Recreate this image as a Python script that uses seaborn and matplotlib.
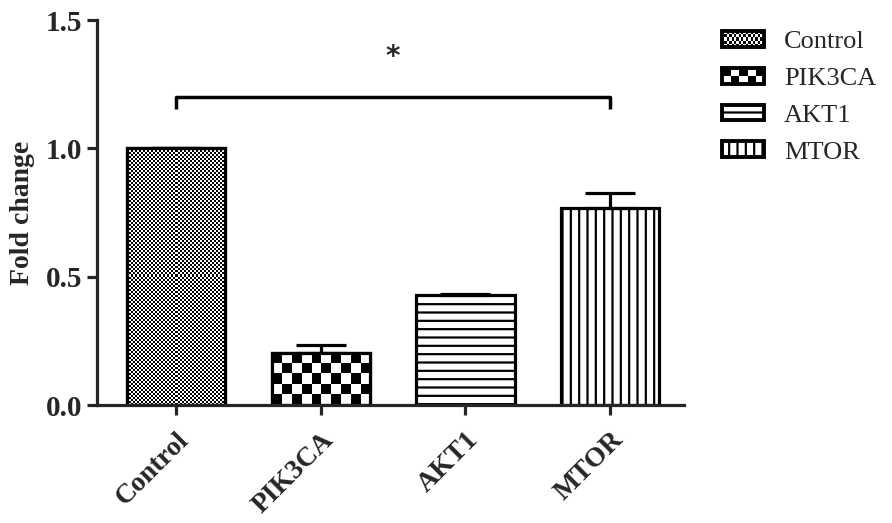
import numpy as np
import pandas as pd
import matplotlib
matplotlib.use("Agg")
import matplotlib.pyplot as plt
import seaborn as sns
from matplotlib.patches import Rectangle
from matplotlib.legend_handler import HandlerBase
from matplotlib.image import BboxImage
from matplotlib.transforms import Bbox, TransformedBbox
from matplotlib.colors import Normalize

# ---- data ----
categories = ["Control", "PIK3CA", "AKT1", "MTOR"]
fold_change = [1.0, 0.203, 0.428, 0.767]
sem_upper = [0.0, 0.030, 0.006, 0.058]
y_ticks = [0.0, 0.5, 1.0, 1.5]
y_label = "Fold change"
sig_label = "*"

sns.set_style("ticks")
plt.rcParams["font.family"] = ["Liberation Serif", "DejaVu Serif"]
plt.rcParams["hatch.linewidth"] = 1.6

fig = plt.figure(figsize=(8.92, 5.23), dpi=100)
ax = fig.add_axes([97 / 892, 1 - 405 / 523, (684 - 97) / 892, (405 - 20) / 523])

df = pd.DataFrame({"group": categories, "value": fold_change})
sns.barplot(data=df, x="group", y="value", order=categories, color="white",
            edgecolor="black", linewidth=2.3, width=0.68, errorbar=None,
            saturation=1, ax=ax)

ax.set_xlim(-0.546, 3.51)
ax.set_ylim(0, 1.5)

bars = list(ax.patches)
hatches = [None, None, "--", "||"]
checker_cell_px = [2.0, 10.0, None, None]


def checker(nr, nc):
    return (np.indices((nr, nc)).sum(axis=0) % 2).astype(float)


for bar, h, cell in zip(bars, hatches, checker_cell_px):
    bar.set_facecolor("white")
    if h:
        bar.set_hatch(h)
    if cell:
        ext = bar.get_window_extent(renderer=fig.canvas.get_renderer())
        nc = max(1, int(round(ext.width / cell)))
        nr = max(1, int(round(ext.height / cell)))
        x0 = bar.get_x()
        x1 = x0 + bar.get_width()
        y1 = bar.get_height()
        im = ax.imshow(checker(nr, nc), cmap="gray", norm=Normalize(0, 1),
                       interpolation="nearest", aspect="auto",
                       extent=(x0, x1, 0, y1), origin="lower",
                       zorder=bar.get_zorder() + 0.1)
        im.set_clip_path(bar)
        ax.add_patch(Rectangle(bar.get_xy(), bar.get_width(), bar.get_height(),
                               fc="none", ec="black", lw=2.3,
                               zorder=bar.get_zorder() + 0.2))

ax.set_xlim(-0.546, 3.51)
ax.set_ylim(0, 1.5)

centers = [b.get_x() + b.get_width() / 2 for b in bars]
ax.errorbar(centers, fold_change, yerr=[np.zeros(len(sem_upper)), sem_upper],
            fmt="none", ecolor="black", elinewidth=2.3, capsize=18,
            capthick=2.3, zorder=1)

# significance bracket
ax.plot([centers[0], centers[0], centers[3], centers[3]],
        [1.155, 1.2, 1.2, 1.155], color="black", lw=2.5, solid_capstyle="butt",
        clip_on=False)
ax.text((centers[0] + centers[3]) / 2, 1.30, sig_label, ha="center",
        va="bottom", fontsize=20, fontweight="bold", family=["DejaVu Sans"])

sns.despine(ax=ax)
for side in ["left", "bottom"]:
    ax.spines[side].set_linewidth(2.3)
ax.tick_params(axis="both", width=2.3, length=7, direction="out")
ax.tick_params(axis="x", pad=9)
ax.set_yticks(y_ticks)
ax.set_yticklabels([f"{t:.1f}" for t in y_ticks], fontsize=21, fontweight="bold")
ax.set_xticks(range(len(categories)))
ax.set_xticklabels(categories, rotation=45, ha="right", va="top",
                   rotation_mode="anchor", fontsize=20, fontweight="bold")
ax.set_xlabel("")
ax.set_ylabel(y_label, fontsize=20, fontweight="bold", labelpad=8)


class CheckerHandler(HandlerBase):
    def __init__(self, ncols, nrows):
        super().__init__()
        self.ncols = ncols
        self.nrows = nrows

    def create_artists(self, legend, orig_handle, xdescent, ydescent, width,
                       height, fontsize, trans):
        bb = TransformedBbox(Bbox.from_bounds(-xdescent, -ydescent, width, height), trans)
        img = BboxImage(bb, cmap="gray", norm=Normalize(0, 1), interpolation="nearest")
        img.set_data(checker(self.nrows, self.ncols))
        rect = Rectangle((-xdescent, -ydescent), width, height, fc="none",
                         ec="black", lw=2.8, transform=trans)
        return [img, rect]


handles = []
for c, h in zip(categories, hatches):
    handles.append(Rectangle((0, 0), 1, 1, fc="white", ec="black", lw=2.8,
                             hatch=h, label=c))
handler_map = {handles[0]: CheckerHandler(18, 5), handles[1]: CheckerHandler(5, 2)}
leg = fig.legend(handles=handles, labels=categories, handler_map=handler_map,
                 loc="upper left", bbox_to_anchor=(722 / 892, 1 - 31 / 523),
                 frameon=False, fontsize=19, handlelength=1.6, handleheight=0.55,
                 handletextpad=0.75, labelspacing=0.55, borderaxespad=0,
                 borderpad=0)

fig.savefig("out.png", dpi=100)
